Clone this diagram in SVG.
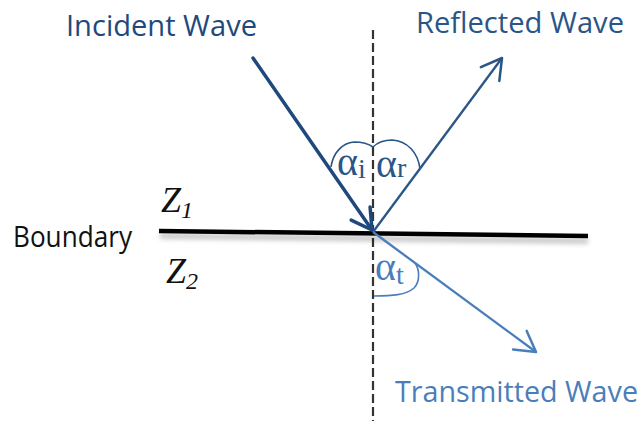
<svg xmlns="http://www.w3.org/2000/svg" width="640" height="425" viewBox="0 0 640 425">
<style>
.lbl{font-family:"Open Sans","Liberation Sans",sans-serif;font-size:29px}
.math{font-family:"Liberation Serif","DejaVu Serif",serif}
.zz{font-family:"Liberation Serif","DejaVu Serif",serif;font-style:italic}
.arc{fill:none;stroke-width:1.6}
</style>
<defs>
<marker id="ahI" markerUnits="userSpaceOnUse" markerWidth="40" markerHeight="40" refX="0" refY="0" viewBox="-30 -20 40 40" orient="auto" overflow="visible">
<path d="M-20,-11.5 L0,0 L-20,11.5" fill="none" stroke="#1F497D" stroke-width="3.5" stroke-linecap="round" stroke-linejoin="round"/>
</marker>
<marker id="ahR" markerUnits="userSpaceOnUse" markerWidth="40" markerHeight="40" refX="0" refY="0" viewBox="-30 -20 40 40" orient="auto" overflow="visible">
<path d="M-20,-11.5 L0,0 L-20,11.5" fill="none" stroke="#2A5587" stroke-width="2.5" stroke-linecap="round" stroke-linejoin="round"/>
</marker>
<marker id="ahT" markerUnits="userSpaceOnUse" markerWidth="40" markerHeight="40" refX="0" refY="0" viewBox="-30 -20 40 40" orient="auto" overflow="visible">
<path d="M-20,-11.5 L0,0 L-20,11.5" fill="none" stroke="#4A7EBB" stroke-width="2.5" stroke-linecap="round" stroke-linejoin="round"/>
</marker>
<filter id="sh" x="-5%" y="-200%" width="110%" height="500%">
<feGaussianBlur stdDeviation="2.5"/>
</filter>
</defs>

<g id="normal">
<line x1="373" y1="30" x2="373" y2="421" stroke="#333" stroke-width="2.2" stroke-dasharray="9 4"/>
</g>

<g id="boundary">
<line x1="160" y1="236" x2="588" y2="241" stroke="#000" stroke-opacity="0.25" stroke-width="5" filter="url(#sh)"/>
<line x1="159" y1="231" x2="588" y2="236" stroke="#000" stroke-width="4.5"/>
<text class="lbl" x="13" y="247" fill="#111" textLength="119" lengthAdjust="spacingAndGlyphs">Boundary</text>
</g>

<g id="media">
<text class="zz" x="161" y="212" font-size="36" fill="#111">Z<tspan font-size="24" dy="6">1</tspan></text>
<text class="zz" x="166" y="283" font-size="36" fill="#111">Z<tspan font-size="24" dy="6">2</tspan></text>
</g>

<g id="connectors">
<line id="incident" x1="253" y1="58" x2="372" y2="230" stroke="#1F497D" stroke-width="3.5" stroke-linecap="round" marker-end="url(#ahI)"/>
<line id="reflected" x1="373" y1="232" x2="502" y2="58" stroke="#2A5587" stroke-width="2.3" marker-end="url(#ahR)"/>
<line id="transmitted" x1="373" y1="232" x2="536" y2="352" stroke="#4A7EBB" stroke-width="2.3" marker-end="url(#ahT)"/>
</g>

<g id="incident-label">
<text class="lbl" x="66" y="36" fill="#1F497D" textLength="191" lengthAdjust="spacingAndGlyphs">Incident Wave</text>
</g>
<g id="reflected-label">
<text class="lbl" x="416" y="33" fill="#2A5587" textLength="208" lengthAdjust="spacingAndGlyphs">Reflected Wave</text>
</g>
<g id="transmitted-label">
<text class="lbl" x="395" y="402" fill="#4A7EBB" textLength="243" lengthAdjust="spacingAndGlyphs">Transmitted Wave</text>
</g>

<g id="angle-i">
<path class="arc" stroke="#2A5587" d="M331,167 C333,153 342,143 354,142 C362,142 369,144 373,147"/>
<text class="math" x="337" y="175" font-size="40" fill="#2A5587">α<tspan font-size="28" dy="3">i</tspan></text>
</g>
<g id="angle-r">
<path class="arc" stroke="#2A5587" d="M373,147 C378,142 385,140 392,140 C407,141 418,152 420,169"/>
<text class="math" x="376" y="177" font-size="40" fill="#2A5587">α<tspan font-size="28" dy="0">r</tspan></text>
</g>
<g id="angle-t">
<path class="arc" stroke="#4A7EBB" d="M415,263 C420,270 420,282 414,288 C406,295 392,296 374,296"/>
<text class="math" x="375" y="280" font-size="40" fill="#4A7EBB">α<tspan font-size="28" dy="4">t</tspan></text>
</g>
</svg>
